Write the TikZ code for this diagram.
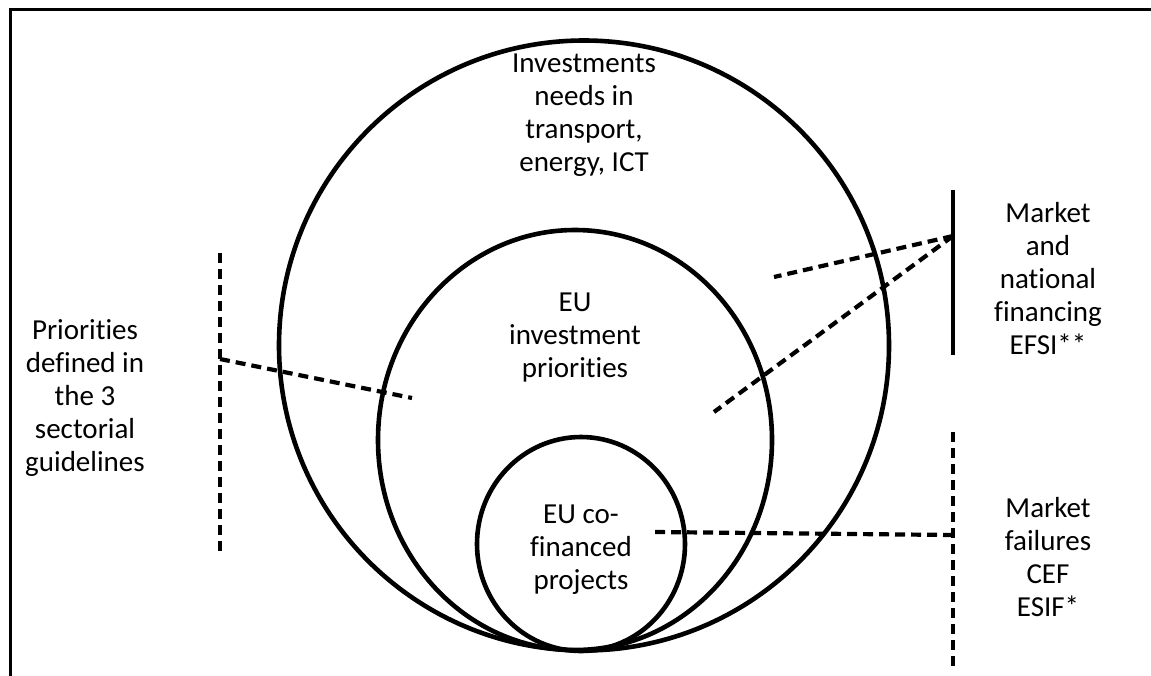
\documentclass[tikz,border=0pt]{standalone}
\usepackage{fontspec}
\setmainfont[Ligatures={NoCommon}]{Carlito}
\begin{document}
\begin{tikzpicture}[x=1pt,y=-1pt,
  ring/.style={line width=4.6pt},
  dashln/.style={line width=4.2pt, dash pattern=on 10pt off 6pt},
  barln/.style={line width=3.6pt},
  lbl/.style={align=center, inner sep=0pt, font={\fontsize{29}{33}\selectfont}},
  frameln/.style={line width=3pt}]
\useasboundingbox (0,0) rectangle (1151,675);
\draw[frameln] (10,676) -- (10,9) -- (1152,9);
% circles
\draw[ring] (584,345.5) ellipse [x radius=305pt, y radius=305pt];
\draw[ring] (575,440) ellipse [x radius=197pt, y radius=210pt];
\draw[ring] (581,544) ellipse [x radius=104pt, y radius=107pt];
% texts
\node[lbl] (outer) at (584,115) {Investments\\needs in\\transport,\\energy, ICT};
\node[lbl] (middle) at (575,338) {EU\\investment\\priorities};
\node[lbl] (inner) at (581,550) {EU co-\\financed\\projects};
\node[lbl] (left) at (85,398) {Priorities\\defined in\\the 3\\sectorial\\guidelines};
\node[lbl] (rtop) at (1048,279) {Market\\and\\national\\financing\\EFSI**};
\node[lbl] (rbot) at (1048,557) {Market\\failures\\CEF\\ESIF*};
% left bracket
\coordinate (lt) at (220,253);
\coordinate (lbtm) at (220,552);
\coordinate (lj) at (220,359);
\coordinate (le) at (412,398);
\draw[dashln] (lt) -- (lbtm);
\draw[dashln] (lj) -- (le);
% right top bracket
\coordinate (rt1) at (953,190);
\coordinate (rt2) at (953,355);
\coordinate (rj) at (953,236);
\coordinate (re1) at (774,277);
\coordinate (re2) at (714,412);
\draw[barln] (rt1) -- (rt2);
\draw[dashln] (rj) -- (re1);
\draw[dashln] (rj) -- (re2);
% right bottom bracket
\coordinate (rb1) at (953,432);
\coordinate (rb2) at (953,667);
\coordinate (rbj) at (953,535);
\coordinate (rbe) at (655,532);
\draw[dashln] (rb1) -- (rb2);
\draw[dashln] (rbj) -- (rbe);
\end{tikzpicture}
\end{document}
